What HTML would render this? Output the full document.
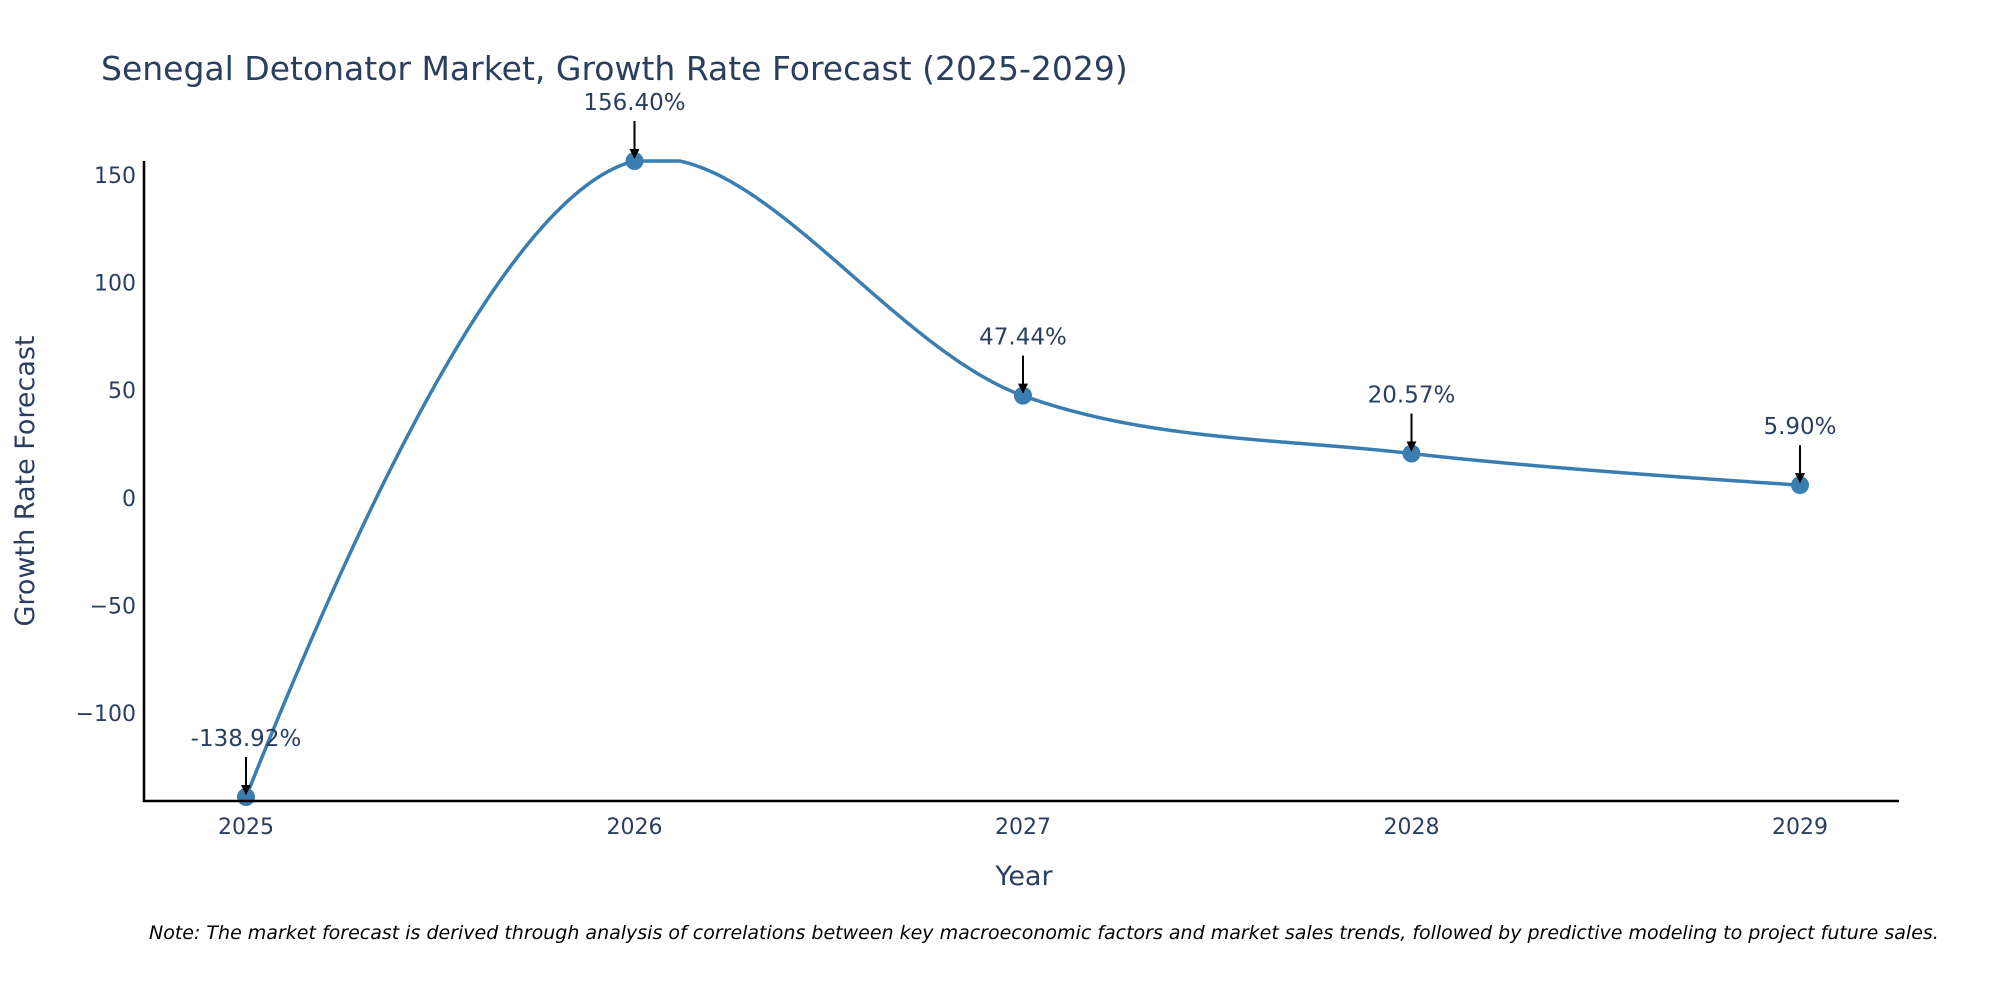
<!DOCTYPE html>
<html><head><meta charset="utf-8"><style>
html,body{margin:0;padding:0;background:#fff;overflow:hidden;}
svg{display:block;font-family:"DejaVu Sans","Liberation Sans",sans-serif;}
</style></head><body>
<svg id="chart" width="2000" height="1000" viewBox="0 0 2000 1000">
<rect width="2000" height="1000" fill="#fff"/>
<text x="101" y="80" font-size="33" fill="#2a3f5f">Senegal Detonator Market, Growth Rate Forecast (2025-2029)</text>
<defs>
<marker id="ah" viewBox="0 0 10 10" refX="9" refY="5" markerWidth="5" markerHeight="5" orient="auto"><path d="M0,0 L10,5 L0,10 z" fill="#000"/></marker>
</defs>
<g id="yticks"></g>
<g id="xticks"></g>
<g id="series"></g>
<g id="annots"></g>
<line x1="144" y1="161" x2="144" y2="802" stroke="#000" stroke-width="2.5"/>
<line x1="143" y1="801" x2="1899" y2="801" stroke="#000" stroke-width="2.5"/>
<text x="1024" y="885" font-size="27" fill="#2a3f5f" text-anchor="middle">Year</text>
<text transform="translate(34,481) rotate(-90)" font-size="27" fill="#2a3f5f" text-anchor="middle">Growth Rate Forecast</text>
<text x="149" y="939" font-size="19" font-style="italic" fill="#000">Note: The market forecast is derived through analysis of correlations between key macroeconomic factors and market sales trends, followed by predictive modeling to project future sales.</text>
</svg>
<script>
const categories = [2025, 2026, 2027, 2028, 2029];
const growthValues = [-138.92, 156.40, 47.44, 20.57, 5.90];
const yTickValues = [-100, -50, 0, 50, 100, 150];
const yTickLabels = ["\u2212100", "\u221250", "0", "50", "100", "150"];

const NS = "http://www.w3.org/2000/svg";
const yMin = -138.92, yMax = 156.40, pyTop = 161, pyBot = 797;
function yScale(v){ return pyBot - (v - yMin) / (yMax - yMin) * (pyBot - pyTop); }
function xScale(c){ return 246 + (c - categories[0]) / (categories[categories.length-1] - categories[0]) * (1800 - 246); }
function mk(tag, attrs, parent){ const e=document.createElementNS(NS,tag); for(const k in attrs) e.setAttribute(k,attrs[k]); parent.appendChild(e); return e; }

const yt = document.getElementById('yticks');
yTickValues.forEach((v,i)=>{
  const t = mk('text',{x:136,y:yScale(v)+8,'font-size':22,fill:'#2a3f5f','text-anchor':'end'},yt);
  
  
  t.textContent = yTickLabels[i];
});
const xt = document.getElementById('xticks');
categories.forEach(c=>{
  const t = mk('text',{x:xScale(c),y:834,'font-size':22,fill:'#2a3f5f','text-anchor':'middle'},xt);
  
  
  t.textContent = c;
});

const pts = categories.map((c,i)=>[xScale(c), yScale(growthValues[i])]);
function tangent(p0,p1,p2,s){
  const d1x=p0[0]-p1[0], d1y=p0[1]-p1[1], d2x=p2[0]-p1[0], d2y=p2[1]-p1[1];
  const d1a=Math.pow(d1x*d1x+d1y*d1y,0.25), d2a=Math.pow(d2x*d2x+d2y*d2y,0.25);
  const nx=(d2a*d2a*d1x-d1a*d1a*d2x)*s, ny=(d2a*d2a*d1y-d1a*d1a*d2y)*s;
  const den1=3*d2a*(d1a+d2a), den2=3*d1a*(d1a+d2a);
  return [[p1[0]+nx/den1,p1[1]+ny/den1],[p1[0]-nx/den2,p1[1]-ny/den2]];
}
const tans=[];
for(let i=1;i<pts.length-1;i++) tans.push(tangent(pts[i-1],pts[i],pts[i+1],1));
const P=p=>p[0].toFixed(2)+','+p[1].toFixed(2);
let d='M'+P(pts[0])+'Q'+P(tans[0][0])+' '+P(pts[1]);
for(let i=2;i<pts.length-1;i++) d+='C'+P(tans[i-2][1])+' '+P(tans[i-1][0])+' '+P(pts[i]);
d+='Q'+P(tans[pts.length-3][1])+' '+P(pts[pts.length-1]);
const sg=document.getElementById('series');
const tmp=mk('path',{d:d,fill:'none'},sg);
const L=tmp.getTotalLength();
let dd='';
for(let s=0;s<=L;s+=2){
  const q=tmp.getPointAtLength(Math.min(s,L));
  dd+=(s===0?'M':'L')+q.x.toFixed(2)+','+Math.max(pyTop,Math.min(pyBot+4,q.y)).toFixed(2);
}
const q=tmp.getPointAtLength(L);
dd+='L'+q.x.toFixed(2)+','+q.y.toFixed(2);
sg.removeChild(tmp);
const line=mk('path',{d:dd,fill:'none',stroke:'#3a7eb1','stroke-width':3.5,'stroke-linejoin':'round'},sg);


pts.forEach(p=>{
  const c=mk('circle',{cx:p[0],cy:p[1],r:9,fill:'#3a7eb1'},sg);
  
  
});
const ag=document.getElementById('annots');
pts.forEach((p,i)=>{
  const l=mk('line',{x1:p[0],y1:p[1]-40,x2:p[0],y2:p[1]-3,stroke:'#000','stroke-width':2,'marker-end':'url(#ah)'},ag);
  
  
  const t=mk('text',{x:p[0],y:p[1]-51,'font-size':23,fill:'#2a3f5f','text-anchor':'middle'},ag);
  
  
  t.textContent=growthValues[i].toFixed(2)+'%';
});
</script>
</body></html>
